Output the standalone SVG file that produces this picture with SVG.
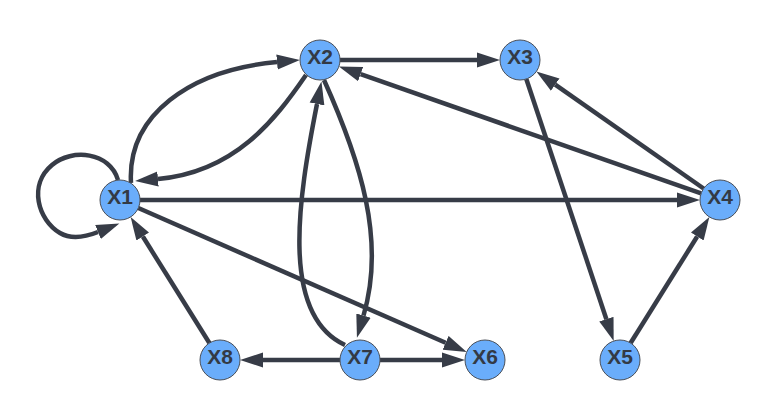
<svg xmlns="http://www.w3.org/2000/svg" width="780" height="420" viewBox="0 0 780 420">
<style>
.edge{fill:none;stroke:#373c47;stroke-width:4.5;marker-end:url(#arrow)}
.node circle{fill:#6aadfb;stroke:#4a4f58;stroke-width:1}
.node text{font-family:"Liberation Sans",Arial,sans-serif;font-weight:bold;font-size:21px;fill:#333a45;text-anchor:middle}
</style>
<defs>
<marker id="arrow" markerUnits="userSpaceOnUse" markerWidth="24" markerHeight="16" refX="0" refY="7.5" orient="auto" viewBox="0 0 24 15">
<path d="M0,0 L23,7.5 L0,15 z" fill="#373c47"/>
</marker>
</defs>
<rect width="780" height="420" fill="#ffffff"/>
<g id="edges">
<path class="edge" d="M340,60 L477,60"/>
<path class="edge" d="M140,200 L677,200"/>
<path class="edge" d="M701.1,193.4 L360.6,74.2"/>
<path class="edge" d="M703.6,188.5 L555.2,84.7"/>
<path class="edge" d="M138.3,208 L445.6,342.8"/>
<path class="edge" d="M526.3,79 L606.4,319.2"/>
<path class="edge" d="M630.6,343 L697.2,236.5"/>
<path class="edge" d="M340,360 L263,360"/>
<path class="edge" d="M380,360 L442,360"/>
<path class="edge" d="M209.4,343 L142.8,236.5"/>
<path class="edge" d="M131,183 C127,115 190,70 277,62"/>
<path class="edge" d="M306,75 C275,120 235,172 158,179"/>
<path class="edge" d="M324,80 C360,160 386,240 363.5,315.6"/>
<path class="edge" d="M345,345 C280,315 298,200 317,104"/>
<path class="edge" d="M118,180 C110,152 72,148 52,165 C28,185 38,220 60,233 C72,240 88,236 98,232"/>
</g>
<g id="X1" class="node"><circle cx="120" cy="200" r="20"/><text x="120" y="203.5">X1</text></g>
<g id="X2" class="node"><circle cx="320" cy="60" r="20"/><text x="320" y="63.5">X2</text></g>
<g id="X3" class="node"><circle cx="520" cy="60" r="20"/><text x="520" y="63.5">X3</text></g>
<g id="X4" class="node"><circle cx="720" cy="200" r="20"/><text x="720" y="203.5">X4</text></g>
<g id="X5" class="node"><circle cx="620" cy="360" r="20"/><text x="620" y="363.5">X5</text></g>
<g id="X6" class="node"><circle cx="485" cy="360" r="20"/><text x="485" y="363.5">X6</text></g>
<g id="X7" class="node"><circle cx="360" cy="360" r="20"/><text x="360" y="363.5">X7</text></g>
<g id="X8" class="node"><circle cx="220" cy="360" r="20"/><text x="220" y="363.5">X8</text></g>
</svg>
